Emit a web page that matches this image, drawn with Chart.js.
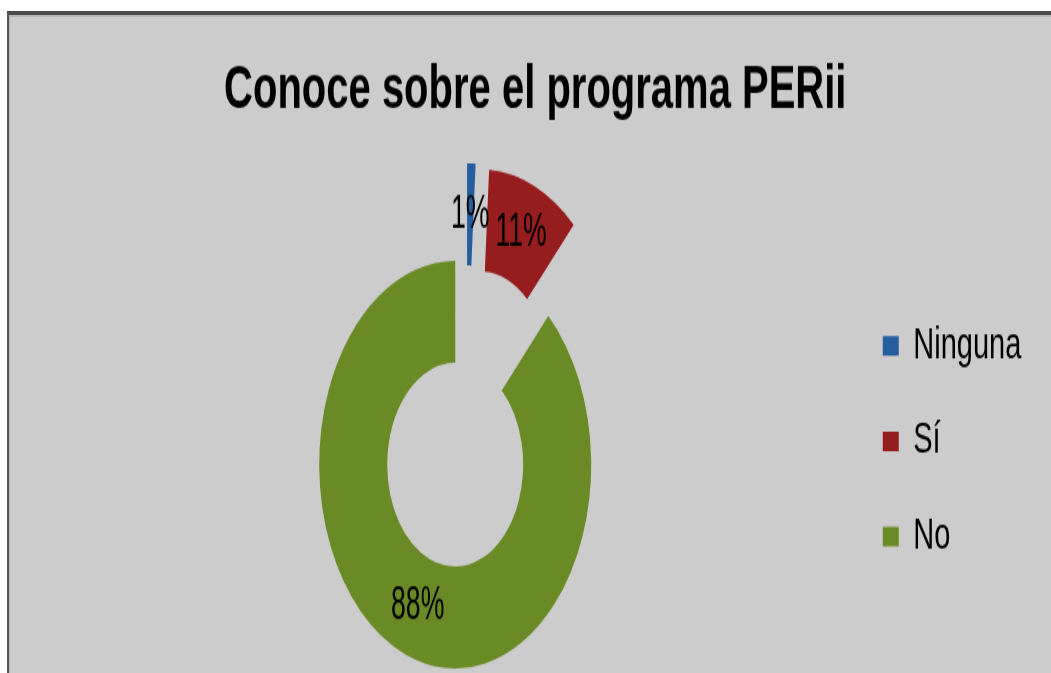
<!DOCTYPE html>
<html>
<head>
<meta charset="utf-8">
<title>Conoce sobre el programa PERii</title>
<script src="https://cdn.jsdelivr.net/npm/chart.js@4.4.1/dist/chart.umd.min.js"></script>
<style>
  html, body { margin: 0; padding: 0; background: #fff; overflow: hidden; }
  #frame {
    position: absolute; left: 7px; top: 11px; width: 1042px; height: 658px;
    background: #cccccc;
    border-top: 4px solid #4a4a4a;
    border-left: 2px solid #565656;
    box-shadow: inset 1px 2px 0 #b4b4b4;
  }
  /* the original picture is stretched vertically, so the canvas is too */
  #wrap {
    position: absolute; left: 0; top: 0; width: 1051px; height: 449px;
    transform: scaleY(1.4989); transform-origin: 0 0;
  }
  #pie { width: 1051px; height: 449px; }
</style>
</head>
<body>
<div id="frame"></div>
<div id="wrap"><canvas id="pie" width="1051" height="449"></canvas></div>
<script>
const categories = ['Ninguna', 'Sí', 'No'];
const percentages = [1, 11, 88];
const sliceColors = ['#245e9e', '#961d1d', '#698a25'];
const explode = [38, 37, 29]; // px each slice is pulled out along its mid angle

const baseFont = '"Liberation Sans", Arial, sans-serif';

// Draw every arc pulled out by a fixed distance (keeps the ring radii equal)
const explodedArcs = {
    id: 'explodedArcs',
    beforeDatasetDraw(chart, args) {
        const ctx = chart.ctx;
        args.meta.data.forEach((arc, i) => {
            const mid = (arc.startAngle + arc.endAngle) / 2;
            ctx.save();
            ctx.translate(Math.cos(mid) * explode[i], Math.sin(mid) * explode[i]);
            arc.draw(ctx);
            ctx.restore();
        });
        return false;
    }
};

// Percent labels at the middle of each slice
const sliceLabels = {
    id: 'sliceLabels',
    afterDatasetsDraw(chart) {
        const ctx = chart.ctx;
        const meta = chart.getDatasetMeta(0);
        ctx.save();
        ctx.fillStyle = '#000';
        ctx.font = '31px ' + baseFont;
        ctx.textAlign = 'center';
        ctx.textBaseline = 'middle';
        meta.data.forEach((arc, i) => {
            const mid = (arc.startAngle + arc.endAngle) / 2;
            const r = (arc.innerRadius + arc.outerRadius) / 2 + explode[i];
            ctx.save();
            ctx.translate(arc.x + Math.cos(mid) * r, arc.y + Math.sin(mid) * r);
            ctx.scale(0.86, 1);
            ctx.fillText(percentages[i] + '%', 0, 0);
            ctx.restore();
        });
        ctx.restore();
    }
};

new Chart(document.getElementById('pie'), {
    type: 'doughnut',
    data: {
        labels: categories,
        datasets: [{
            data: percentages,
            backgroundColor: sliceColors,
            borderWidth: 0
        }]
    },
    options: {
        responsive: false,
        animation: false,
        radius: 136,
        cutout: '50%',
        layout: {
            padding: { top: 0, bottom: 0, left: 83.7, right: 19.7 }
        },
        plugins: {
            title: {
                display: true,
                // trailing spaces pull the centred title left, as in the original
                text: 'Conoce sobre el programa PERii    ',
                color: '#000',
                font: { family: baseFont, size: 40, weight: 'bold' },
                padding: { top: 36.8, bottom: 32.2 }
            },
            legend: {
                position: 'right',
                title: {
                    display: true,
                    text: '',
                    font: { size: 10 },
                    padding: 63.9
                },
                labels: {
                    color: '#000',
                    font: { family: baseFont, size: 29 },
                    boxWidth: 16,
                    boxHeight: 13,
                    padding: 34.7
                }
            },
            tooltip: { enabled: false }
        }
    },
    plugins: [explodedArcs, sliceLabels]
});
</script>
</body>
</html>
